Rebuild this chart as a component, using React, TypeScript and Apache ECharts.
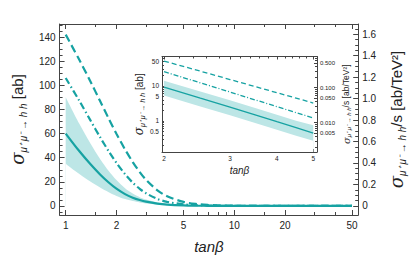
import React, { useEffect, useRef } from 'react';
import * as echarts from 'echarts';

// ---------- main panel data (tanβ, cross section in ab) ----------
const TAN_BETA = [1, 1.2, 1.4, 1.6, 1.8, 2, 2.25, 2.5, 2.75, 3, 3.5, 4, 5, 6, 7, 8, 10, 15, 20, 30, 50];
const DASHED = [142, 121.5, 103.4, 86.9, 72.4, 59.9, 46.8, 36.4, 28.1, 21.7, 13, 8, 3.35, 1.59, 0.83, 0.47, 0.18, 0.03, 0.01, 0, 0];
const DASHDOT = [106, 87.6, 71.1, 57, 45.3, 35.7, 26.3, 19.3, 14.2, 10.5, 5.8, 3.4, 1.33, 0.62, 0.32, 0.18, 0.07, 0.01, 0, 0, 0];
const CENTRAL = [60, 45.7, 34.7, 26.1, 19.4, 14.3, 9.8, 6.85, 4.9, 3.55, 1.95, 1.15, 0.47, 0.23, 0.12, 0.07, 0.03, 0.01, 0, 0, 0];
const BAND_HI = [90, 68.5, 52, 39, 29, 21.5, 14.7, 10.3, 7.3, 5.3, 2.9, 1.7, 0.7, 0.35, 0.18, 0.1, 0.045, 0.015, 0, 0, 0];
const BAND_LO = [35, 26.6, 20.2, 15.2, 11.3, 8.3, 5.7, 4.0, 2.85, 2.05, 1.13, 0.67, 0.27, 0.13, 0.07, 0.04, 0.017, 0.006, 0, 0, 0];

// ---------- inset data ----------
const INSET_TAN = [2, 2.5, 3, 3.5, 4, 4.5, 5];
const INSET_DASHED = [51.6, 26.5, 15.3, 9.6, 6.4, 4.5, 3.26];
const INSET_DASHDOT = [25.6, 12.3, 6.7, 4.0, 2.57, 1.73, 1.22];
const INSET_CENTRAL = [9.3, 4.5, 2.5, 1.5, 0.95, 0.64, 0.45];
const INSET_BAND_HI = [14, 7, 3.9, 2.35, 1.5, 1.02, 0.75];
const INSET_BAND_LO = [5.3, 2.6, 1.45, 0.87, 0.56, 0.38, 0.27];

// ---------- ticks ----------
const X_MAJOR = [1, 2, 5, 10, 20, 50];
const X_MINOR = [1.5, 3, 4, 6, 7, 8, 9, 15, 30, 40];
const Y_LEFT_MAJOR = [0, 20, 40, 60, 80, 100, 120, 140];
const Y_LEFT_MINOR = [-5, 5, 10, 15, 25, 30, 35, 45, 50, 55, 65, 70, 75, 85, 90, 95, 105, 110, 115, 125, 130, 135, 145, 150];
const Y_RIGHT_MAJOR = [0, 0.2, 0.4, 0.6, 0.8, 1.0, 1.2, 1.4, 1.6];
const Y_RIGHT_MINOR = [0.05, 0.1, 0.15, 0.25, 0.3, 0.35, 0.45, 0.5, 0.55, 0.65, 0.7, 0.75, 0.85, 0.9, 0.95, 1.05, 1.1, 1.15, 1.25, 1.3, 1.35, 1.45, 1.5, 1.55, 1.65];
const INSET_X_MAJOR = [2, 3, 4, 5];
const INSET_X_MINOR = [2.2, 2.4, 2.6, 2.8, 3.2, 3.4, 3.6, 3.8, 4.2, 4.4, 4.6, 4.8];
const INSET_Y_MAJOR = [0.5, 1, 5, 10, 50];
const INSET_Y_MINOR = [0.2, 0.3, 0.4, 0.6, 0.7, 0.8, 0.9, 2, 3, 4, 6, 7, 8, 9, 20, 30, 40, 60];
const INSET_R_MAJOR = [0.005, 0.01, 0.05, 0.1, 0.5];
const INSET_R_MINOR = [0.002, 0.003, 0.004, 0.006, 0.007, 0.008, 0.009, 0.02, 0.03, 0.04, 0.06, 0.07, 0.08, 0.09, 0.2, 0.3, 0.4, 0.6, 0.7];

// ratio between σ [ab] and σ/s [ab/TeV^2]
const S_FACTOR = 89;

const LINE = '#16a2a2';
const BAND = '#bde6e6';
const FRAME = '#444';
const TXT = '#222';
const FONT = '"Liberation Sans", Arial, sans-serif';

const lg = (v: number) => Math.log10(v);

// ranges
const X_MIN = lg(0.92), X_MAX = lg(54.4);
const Y_MIN = -7.5, Y_MAX = 150.8;
const IX_MIN = 0.2957, IX_MAX = 0.709;
const IY_MIN = -0.887, IY_MAX = 1.842;

function pairs(xs: number[], ys: number[], logY = false) {
  return xs.map((x, i) => [lg(x), logY ? lg(ys[i]) : ys[i]]);
}

function axis(o: any) {
  const {
    gridIndex, position, min, max, ticks, labels, formatter, tickLen = 5,
    line = true, fontSize = 10, margin = 5, name, nameGap, nameStyle, nameRotate,
  } = o;
  const a: any = {
    type: 'value', gridIndex, position, min, max, scale: true,
    axisLine: { show: line, onZero: false, lineStyle: { color: FRAME, width: 1 } },
    axisTick: { show: true, inside: true, length: tickLen, customValues: ticks, lineStyle: { color: FRAME, width: 1 } },
    axisLabel: labels
      ? { show: true, customValues: labels, formatter, color: TXT, fontSize, fontFamily: FONT, margin }
      : { show: false },
    splitLine: { show: false },
  };
  if (name) {
    a.name = name;
    a.nameLocation = 'middle';
    a.nameGap = nameGap;
    a.nameTextStyle = nameStyle;
    if (nameRotate !== undefined) a.nameRotate = nameRotate;
  }
  return a;
}

const sigmaRich = (big: number, sub: number, lh: number) => ({
  s: { fontSize: big, fontStyle: 'italic', fontFamily: '"DejaVu Serif", serif', color: TXT, verticalAlign: 'middle' },
  sub: { fontSize: sub, fontStyle: 'italic', fontFamily: FONT, color: TXT, verticalAlign: 'bottom', lineHeight: lh },
});

function line(xi: number, yi: number, data: number[][], width: number, type: any, smooth: any) {
  return {
    type: 'line', xAxisIndex: xi, yAxisIndex: yi, data, symbol: 'none', smooth,
    lineStyle: { color: LINE, width, type }, z: 3, silent: true,
  };
}
function area(xi: number, yi: number, data: number[][], color: string, smooth: any, origin: string, z: number) {
  return {
    type: 'line', xAxisIndex: xi, yAxisIndex: yi, data, symbol: 'none', smooth,
    lineStyle: { width: 0, opacity: 0 }, areaStyle: { color, opacity: 1, origin }, z, silent: true,
  };
}

export default function App() {
  const ref = useRef<HTMLDivElement>(null);
  useEffect(() => {
    if (!ref.current) return;
    const chart = echarts.init(ref.current, null, { renderer: 'svg' });
    const fmtX = (v: number) => String(Math.round(Math.pow(10, v)));
    const fmtInsetL = (v: number) => String(Number(Math.pow(10, v).toPrecision(2)));
    const fmtInsetR = (v: number) => Math.pow(10, v).toFixed(3);

    const mainGrid = { left: 52, top: 24, width: 309, height: 191 };
    const insetGrid = { left: 162, top: 56.5, width: 155, height: 95.5 };
    const SM = 0.3;

    const option: any = {
      animation: false,
      backgroundColor: '#fff',
      textStyle: { fontFamily: FONT },
      grid: [mainGrid, insetGrid],
      xAxis: [
        axis({
          gridIndex: 0, position: 'bottom', min: X_MIN, max: X_MAX,
          ticks: X_MAJOR.map(lg), labels: X_MAJOR.map(lg), formatter: fmtX, margin: 5,
          name: 'tanβ', nameGap: 24,
          nameStyle: { fontSize: 15, fontStyle: 'italic', color: TXT, fontFamily: FONT },
        }),
        axis({ gridIndex: 0, position: 'bottom', min: X_MIN, max: X_MAX, ticks: X_MINOR.map(lg), tickLen: 3, line: false }),
        axis({ gridIndex: 0, position: 'top', min: X_MIN, max: X_MAX, ticks: X_MAJOR.map(lg) }),
        axis({ gridIndex: 0, position: 'top', min: X_MIN, max: X_MAX, ticks: X_MINOR.map(lg), tickLen: 3, line: false }),
        axis({
          gridIndex: 1, position: 'bottom', min: IX_MIN, max: IX_MAX,
          ticks: INSET_X_MAJOR.map(lg), labels: INSET_X_MAJOR.map(lg), formatter: fmtX,
          fontSize: 6.5, margin: 3, tickLen: 3,
          name: 'tanβ', nameGap: 13,
          nameStyle: { fontSize: 10, fontStyle: 'italic', color: TXT, fontFamily: FONT },
        }),
        axis({ gridIndex: 1, position: 'bottom', min: IX_MIN, max: IX_MAX, ticks: INSET_X_MINOR.map(lg), tickLen: 2, line: false }),
        axis({ gridIndex: 1, position: 'top', min: IX_MIN, max: IX_MAX, ticks: INSET_X_MAJOR.map(lg), tickLen: 3 }),
        axis({ gridIndex: 1, position: 'top', min: IX_MIN, max: IX_MAX, ticks: INSET_X_MINOR.map(lg), tickLen: 2, line: false }),
      ],
      yAxis: [
        axis({
          gridIndex: 0, position: 'left', min: Y_MIN, max: Y_MAX,
          ticks: Y_LEFT_MAJOR, labels: Y_LEFT_MAJOR, formatter: (v: number) => String(Math.round(v)), margin: 4,
          name: '{s|σ}{sub|μ⁺ μ⁻ → h h} [ab]', nameGap: 24, nameRotate: 90,
          nameStyle: { fontSize: 15, color: TXT, fontFamily: FONT, rich: sigmaRich(18, 10, 22) },
        }),
        axis({ gridIndex: 0, position: 'left', min: Y_MIN, max: Y_MAX, ticks: Y_LEFT_MINOR, tickLen: 3, line: false }),
        axis({
          gridIndex: 0, position: 'right', min: Y_MIN / S_FACTOR, max: Y_MAX / S_FACTOR,
          ticks: Y_RIGHT_MAJOR, labels: Y_RIGHT_MAJOR,
          formatter: (v: number) => (Math.abs(v) < 1e-9 ? '0' : v.toFixed(1)), margin: 4,
          name: '{s|σ}{sub|μ⁺ μ⁻ → h h}/s [ab/TeV²]', nameGap: 25, nameRotate: 90,
          nameStyle: { fontSize: 15, color: TXT, fontFamily: FONT, rich: sigmaRich(18, 10, 22) },
        }),
        axis({ gridIndex: 0, position: 'right', min: Y_MIN / S_FACTOR, max: Y_MAX / S_FACTOR, ticks: Y_RIGHT_MINOR, tickLen: 3, line: false }),
        axis({
          gridIndex: 1, position: 'left', min: IY_MIN, max: IY_MAX,
          ticks: INSET_Y_MAJOR.map(lg), labels: INSET_Y_MAJOR.map(lg), formatter: fmtInsetL,
          fontSize: 6.5, margin: 3, tickLen: 3,
          name: '{s|σ}{sub|μ⁺ μ⁻ → h h} [ab]', nameGap: 13, nameRotate: 90,
          nameStyle: { fontSize: 10, color: TXT, fontFamily: FONT, rich: sigmaRich(12, 7, 14) },
        }),
        axis({ gridIndex: 1, position: 'left', min: IY_MIN, max: IY_MAX, ticks: INSET_Y_MINOR.map(lg), tickLen: 2, line: false }),
        axis({
          gridIndex: 1, position: 'right', min: IY_MIN - lg(S_FACTOR), max: IY_MAX - lg(S_FACTOR),
          ticks: INSET_R_MAJOR.map(lg), labels: INSET_R_MAJOR.map(lg), formatter: fmtInsetR,
          fontSize: 6, margin: 3, tickLen: 3,
          name: '{s|σ}{sub|μ⁺ μ⁻ → h h}/s [ab/TeV²]', nameGap: 23, nameRotate: 90,
          nameStyle: { fontSize: 8.5, color: TXT, fontFamily: FONT, rich: sigmaRich(10, 6, 12) },
        }),
        axis({ gridIndex: 1, position: 'right', min: IY_MIN - lg(S_FACTOR), max: IY_MAX - lg(S_FACTOR), ticks: INSET_R_MINOR.map(lg), tickLen: 2, line: false }),
      ],
      series: [
        // main band: upper edge filled, lower edge masked with background
        area(0, 0, pairs(TAN_BETA, BAND_HI), BAND, SM, 'auto', 1),
        area(0, 0, pairs(TAN_BETA, BAND_LO), '#fff', SM, 'auto', 2),
        line(0, 0, pairs(TAN_BETA, DASHED), 2.2, [8, 4], SM),
        line(0, 0, pairs(TAN_BETA, DASHDOT), 2.2, [7, 3, 1.5, 3], SM),
        line(0, 0, pairs(TAN_BETA, CENTRAL), 2.2, 'solid', SM),
        // inset (straight in log-log)
        area(4, 4, pairs(INSET_TAN, INSET_BAND_HI, true), BAND, false, 'start', 1),
        area(4, 4, pairs(INSET_TAN, INSET_BAND_LO, true), '#fff', false, 'start', 2),
        line(4, 4, pairs(INSET_TAN, INSET_DASHED, true), 1.3, [5, 3], false),
        line(4, 4, pairs(INSET_TAN, INSET_DASHDOT, true), 1.3, [5, 2, 1, 2], false),
        line(4, 4, pairs(INSET_TAN, INSET_CENTRAL, true), 1.3, 'solid', false),
      ],
    };
    chart.setOption(option);
    return () => chart.dispose();
  }, []);
  return <div ref={ref} style={{ width: 415, height: 272, position: 'absolute', left: 0, top: 0 }} />;
}
